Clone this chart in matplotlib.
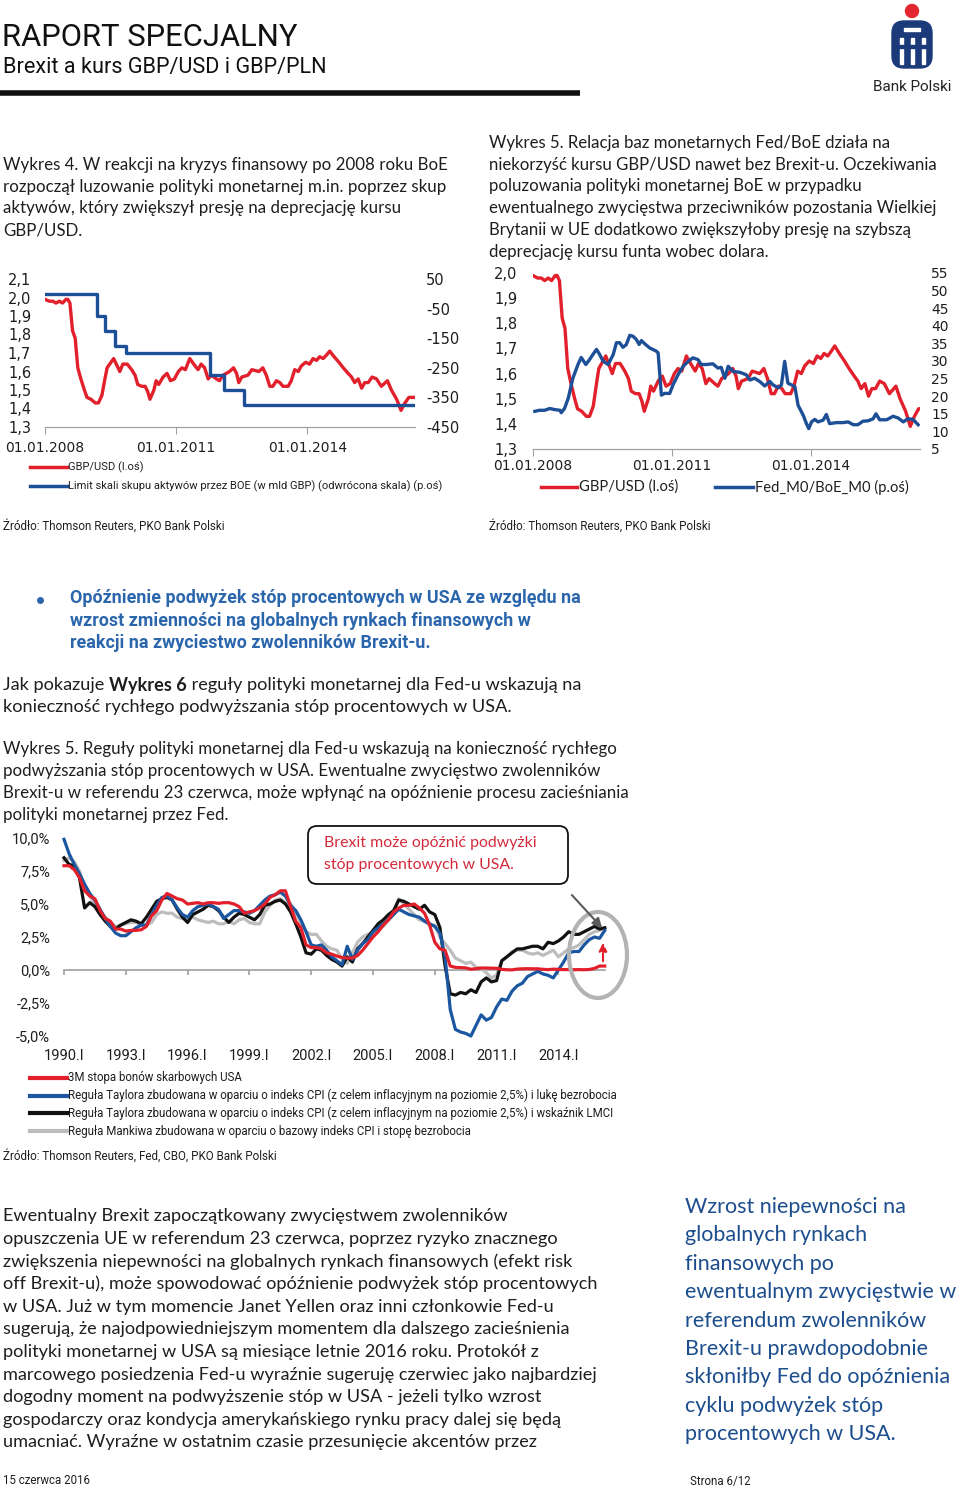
import matplotlib
matplotlib.use('Agg')
import matplotlib.pyplot as plt
import matplotlib.patches as patches
from matplotlib import font_manager
import numpy as np

W, H = 960, 1490

# ---------- dane ----------
# GBP/USD (wykres 4 i 5)
gbp_dates = [2008.00, 2008.10, 2008.18, 2008.25, 2008.33, 2008.40, 2008.48, 2008.52, 2008.57, 2008.63,
             2008.69, 2008.75, 2008.82, 2008.90, 2008.96, 2009.05, 2009.15, 2009.22, 2009.30, 2009.37,
             2009.42, 2009.51, 2009.57, 2009.65, 2009.71, 2009.78, 2009.88, 2009.98, 2010.06, 2010.12,
             2010.21, 2010.29, 2010.35, 2010.40, 2010.49, 2010.54, 2010.60, 2010.70, 2010.79, 2010.87,
             2010.96, 2011.05, 2011.13, 2011.21, 2011.31, 2011.40, 2011.50, 2011.57, 2011.65, 2011.73,
             2011.80, 2011.92, 2011.99, 2012.07, 2012.22, 2012.31, 2012.38, 2012.43, 2012.50, 2012.64,
             2012.73, 2012.89, 2012.98, 2013.06, 2013.14, 2013.21, 2013.29, 2013.37, 2013.44, 2013.56,
             2013.63, 2013.71, 2013.79, 2013.86, 2013.96, 2014.05, 2014.13, 2014.21, 2014.28, 2014.36,
             2014.44, 2014.51, 2014.61, 2014.72, 2014.82, 2014.93, 2015.01, 2015.08, 2015.16, 2015.24,
             2015.31, 2015.39, 2015.48, 2015.58, 2015.69, 2015.83, 2015.92, 2016.04, 2016.14, 2016.23,
             2016.32, 2016.46]
gbp_usd = [1.99, 1.98, 1.98, 1.97, 1.98, 1.97, 1.99, 1.99, 1.97, 1.82,
           1.78, 1.62, 1.56, 1.50, 1.46, 1.45, 1.43, 1.43, 1.47, 1.56,
           1.62, 1.65, 1.67, 1.63, 1.60, 1.64, 1.64, 1.61, 1.58, 1.53,
           1.52, 1.52, 1.49, 1.45, 1.50, 1.55, 1.53, 1.57, 1.59, 1.55,
           1.56, 1.60, 1.62, 1.61, 1.67, 1.64, 1.61, 1.64, 1.62, 1.56,
           1.58, 1.56, 1.55, 1.58, 1.60, 1.62, 1.59, 1.54, 1.57, 1.58,
           1.61, 1.60, 1.62, 1.58, 1.52, 1.52, 1.55, 1.54, 1.52, 1.52,
           1.55, 1.61, 1.60, 1.63, 1.65, 1.64, 1.67, 1.66, 1.68, 1.67,
           1.69, 1.71, 1.68, 1.65, 1.62, 1.59, 1.57, 1.54, 1.56, 1.51,
           1.54, 1.54, 1.57, 1.56, 1.52, 1.55, 1.50, 1.45, 1.39, 1.43,
           1.46, 1.46]

# limit skupu aktywow BoE (mld GBP), zmiany
boe_dates = [2008.00, 2009.20, 2009.37, 2009.60, 2009.85, 2011.77, 2012.10, 2012.55, 2016.46]
boe_limit = [0, 75, 125, 175, 200, 275, 325, 375, 375]

# Fed_M0 / BoE_M0
m0_dates = [2008.04, 2008.14, 2008.25, 2008.36, 2008.47, 2008.58, 2008.61, 2008.68, 2008.76, 2008.86,
            2008.97, 2009.04, 2009.14, 2009.22, 2009.29, 2009.37, 2009.44, 2009.51, 2009.62, 2009.73,
            2009.80, 2009.87, 2009.94, 2010.01, 2010.09, 2010.16, 2010.23, 2010.29, 2010.34, 2010.41,
            2010.52, 2010.66, 2010.70, 2010.77, 2010.84, 2010.95, 2011.02, 2011.13, 2011.24, 2011.35,
            2011.45, 2011.56, 2011.63, 2011.74, 2011.88, 2011.99, 2012.06, 2012.14, 2012.21, 2012.32,
            2012.46, 2012.60, 2012.68, 2012.78, 2012.89, 2013.00, 2013.11, 2013.18, 2013.29, 2013.36,
            2013.43, 2013.50, 2013.58, 2013.65, 2013.72, 2013.83, 2013.90, 2013.95, 2014.01, 2014.08,
            2014.15, 2014.26, 2014.33, 2014.40, 2014.55, 2014.69, 2014.80, 2014.91, 2015.01, 2015.12,
            2015.23, 2015.34, 2015.40, 2015.48, 2015.63, 2015.77, 2015.88, 2015.99, 2016.09, 2016.20,
            2016.31]
m0_ratio = [15.7, 16.0, 16.0, 16.5, 16.2, 16.0, 15.3, 16.5, 19.4, 25.1,
            29.0, 31.0, 29.0, 30.4, 31.8, 33.3, 31.8, 30.0, 29.0, 31.8,
            35.2, 35.2, 33.9, 34.6, 37.3, 37.0, 36.1, 34.7, 35.8, 34.9,
            33.7, 32.8, 32.3, 20.3, 20.8, 20.8, 23.2, 26.1, 28.5, 29.9,
            30.9, 30.4, 29.0, 29.0, 29.2, 28.0, 28.2, 25.1, 28.5, 27.0,
            26.8, 26.1, 24.6, 25.1, 24.2, 22.9, 24.2, 23.2, 22.4, 23.2,
            29.9, 23.7, 23.2, 22.7, 17.4, 14.6, 12.2, 10.8, 12.7, 13.4,
            12.7, 13.2, 14.8, 12.2, 12.5, 12.5, 12.7, 11.9, 11.9, 12.9,
            13.0, 13.6, 15.0, 13.3, 13.3, 14.3, 13.8, 12.7, 13.6, 13.4,
            11.9]

# wykres 6: dane kwartalne 1990.I - 2016.II
tbill_3m = [7.9, 7.9, 7.6, 7.0, 6.0, 5.6, 5.4, 4.5, 3.9, 3.7, 3.1, 3.1, 2.95, 3.0, 3.0, 3.05,
            3.3, 4.1, 4.5, 5.3, 5.8, 5.6, 5.4, 5.3, 5.0, 5.05, 5.1, 5.0, 5.1, 5.1, 5.05, 5.1,
            5.1, 5.0, 4.8, 4.3, 4.4, 4.5, 4.7, 5.0, 5.5, 5.7, 6.0, 6.0, 4.8, 3.7, 3.2, 1.9,
            1.7, 1.7, 1.6, 1.3, 1.2, 1.05, 0.95, 0.9, 0.9, 1.1, 1.5, 2.0, 2.5, 2.9, 3.4, 3.8,
            4.4, 4.7, 4.9, 4.9, 5.0, 4.7, 4.3, 3.4, 2.1, 1.6, 1.5, 0.3, 0.2, 0.18, 0.16, 0.06,
            0.1, 0.15, 0.15, 0.14, 0.13, 0.05, 0.02, 0.01, 0.07, 0.09, 0.1, 0.09, 0.09, 0.05, 0.03, 0.06,
            0.05, 0.03, 0.03, 0.02, 0.03, 0.02, 0.04, 0.12, 0.3, 0.3]
taylor_unemp = [9.9, 8.8, 8.0, 7.3, 6.5, 5.8, 5.3, 4.6, 3.9, 3.3, 2.8, 2.6, 2.6, 2.9, 3.2, 3.4,
                3.4, 4.2, 4.9, 5.5, 5.6, 5.3, 4.7, 4.2, 4.0, 4.5, 4.8, 4.9, 5.0, 4.8, 4.6, 3.9,
                4.2, 4.5, 4.5, 4.4, 4.3, 4.5, 4.9, 5.3, 5.6, 5.7, 5.9, 5.6, 4.9, 4.5, 3.8, 2.9,
                1.9, 1.8, 1.9, 1.5, 1.0, 0.7, 0.4, 1.8, 0.8, 1.5, 2.0, 2.3, 2.9, 3.2, 3.5, 3.8,
                4.2, 4.6, 4.4, 4.2, 4.1, 4.0, 3.7, 3.5, 3.3, 2.8, 1.0, -3.0, -4.5, -4.7, -4.8, -5.0,
                -4.2, -3.4, -3.8, -3.6, -2.8, -2.2, -2.3, -1.6, -1.2, -1.0, -0.5, -0.3, -0.1, -0.3, -0.4, -0.6,
                0.0, 0.6, 1.3, 1.4, 1.4, 1.9, 2.3, 2.5, 2.4, 3.0]
taylor_lmci = [8.5, 8.0, 7.9, 7.0, 4.7, 5.1, 4.8, 4.2, 3.7, 3.3, 3.1, 3.4, 3.6, 3.8, 3.7, 3.5,
               4.0, 4.6, 5.2, 5.4, 5.5, 5.3, 4.6, 4.0, 3.6, 4.2, 4.4, 4.6, 4.9, 4.8, 4.5, 4.0,
               3.6, 4.0, 4.3, 4.2, 4.0, 3.8, 4.2, 4.9, 5.0, 5.2, 5.3, 5.0, 4.4, 3.5, 2.5, 1.3,
               1.2, 1.6, 1.5, 1.1, 0.8, 0.6, 0.3, 1.0, 0.6, 1.6, 2.0, 2.5, 3.0, 3.5, 3.8, 4.2,
               4.5, 5.3, 5.2, 5.0, 4.8, 4.6, 4.9, 4.4, 4.2, 3.2, 0.3, -1.8, -1.9, -1.7, -1.8, -1.5,
               -1.7, -0.9, -0.6, -0.9, -0.8, 0.7, 1.0, 1.3, 1.6, 1.6, 1.7, 1.8, 1.8, 1.6, 2.1, 2.0,
               2.2, 2.5, 2.9, 2.7, 2.7, 2.9, 3.1, 3.3, 3.1, 3.2]
mankiw = [8.3, 8.5, 8.2, 7.5, 6.3, 5.6, 5.0, 4.5, 4.0, 3.6, 3.3, 3.4, 3.5, 3.6, 3.6, 3.4,
          3.4, 3.6, 4.2, 4.4, 4.3, 4.3, 4.0, 3.9, 3.9, 4.0, 3.8, 3.7, 3.6, 3.7, 3.5, 3.5,
          3.7, 3.5, 3.8, 3.9, 3.6, 3.5, 3.5, 4.4, 4.9, 5.3, 5.4, 5.1, 5.0, 4.3, 3.6, 2.9,
          2.7, 2.7, 2.2, 1.8, 1.6, 1.5, 0.8, 0.5, 1.3, 2.1, 2.5, 2.7, 2.8, 3.2, 3.3, 3.8,
          4.2, 5.4, 5.0, 4.6, 4.2, 3.8, 3.7, 3.4, 3.4, 2.5, 2.0, 1.5, 0.9, 0.7, 0.5, 0.6,
          0.2, 0.1, -0.2, -0.6, -0.4, 0.7, 1.0, 1.4, 1.5, 1.5, 1.3, 1.2, 1.3, 1.1, 1.3, 1.5,
          1.0, 1.3, 1.6, 1.7, 1.9, 2.3, 2.7, 2.9, 3.0, 3.2]

ticks_gbp4 = [1.3, 1.4, 1.5, 1.6, 1.7, 1.8, 1.9, 2.0, 2.1]
ticks_boe = [-450, -350, -250, -150, -50, 50]
ticks_gbp5 = [1.3, 1.4, 1.5, 1.6, 1.7, 1.8, 1.9, 2.0]
ticks_m0 = [5, 10, 15, 20, 25, 30, 35, 40, 45, 50, 55]
date_ticks = [2008, 2011, 2014]
date_labels = ['01.01.2008', '01.01.2011', '01.01.2014']
rate_ticks = [-5.0, -2.5, 0.0, 2.5, 5.0, 7.5, 10.0]
year_ticks = [1990, 1993, 1996, 1999, 2002, 2005, 2008, 2011, 2014]

# ---------- styl ----------
names = {f.name for f in font_manager.fontManager.ttflist}
NARROW = 'Liberation Sans Narrow' if 'Liberation Sans Narrow' in names else 'Roboto'
BODY = 'Lato' if 'Lato' in names else 'DejaVu Sans'
plt.rcParams['axes.unicode_minus'] = False

INK = '#1e1e1e'
RED = '#e2202c'
BLUE = '#1d4f97'
GREY = '#bdbdbd'
AXIS = '#a0a0a0'
TXT_BLUE = '#2b66ad'
NAVY_TXT = '#1c4d8c'


def comma(v, fmt):
    return (fmt % v).replace('.', ',')


fig = plt.figure(figsize=(W / 100, H / 100), dpi=100)
page = fig.add_axes([0, 0, 1, 1])
page.set_xlim(0, W)
page.set_ylim(H, 0)
page.axis('off')


def box(x0, y0, x1, y1):
    return [x0 / W, 1 - y1 / H, (x1 - x0) / W, (y1 - y0) / H]


def txt(x, y, s, size, color=INK, family=BODY, weight='normal', ha='left', ax=None):
    a = page if ax is None else ax
    return a.text(x, y, s, fontsize=size, color=color, family=family,
                  weight=weight, ha=ha, va='center')


def lines(x, y0, step, rows, size, **kw):
    for i, r in enumerate(rows):
        txt(x, y0 + i * step, r, size, **kw)


# ---------- naglowek ----------
txt(2, 37, 'RAPORT SPECJALNY', 22.3, family=NARROW, color='#111111')
txt(3, 68, 'Brexit a kurs GBP/USD i GBP/PLN', 15.6, family=NARROW, color='#111111')
page.plot([0, 580], [93, 93], color='#111111', lw=4, solid_capstyle='butt')

# logo
page.add_patch(patches.Circle((912, 11), 6.5, color='#e3262f'))
page.add_patch(patches.FancyBboxPatch((892, 21), 40, 47, boxstyle='round,pad=0,rounding_size=12',
                                      color='#1b3a7a'))
page.add_patch(patches.Rectangle((904, 28), 16, 3, color='white'))
for xx in (900, 911, 922):
    page.add_patch(patches.Rectangle((xx, 38), 3, 26, color='white'))
page.add_patch(patches.Rectangle((894, 45), 36, 2.5, color='#1b3a7a'))
txt(912, 87, 'Bank Polski', 11, family=NARROW, ha='center', color='#222222')

# ---------- teksty nad wykresami ----------
lines(3, 165, 21.7, ['Wykres 4. W reakcji na kryzys finansowy po 2008 roku BoE',
                     'rozpoczął luzowanie polityki monetarnej m.in. poprzez skup',
                     'aktywów, który zwiększył presję na deprecjację kursu',
                     'GBP/USD.'], 12.2)
lines(489, 143, 21.7, ['Wykres 5. Relacja baz monetarnych Fed/BoE działa na',
                       'niekorzyść kursu GBP/USD nawet bez Brexit-u. Oczekiwania',
                       'poluzowania polityki monetarnej BoE w przypadku',
                       'ewentualnego zwycięstwa przeciwników pozostania Wielkiej',
                       'Brytanii w UE dodatkowo zwiększyłoby presję na szybszą',
                       'deprecjację kursu funta wobec dolara.'], 12.1)


def date_axis(ax):
    for s in ('top', 'left', 'right'):
        ax.spines[s].set_visible(False)
    ax.spines['bottom'].set_color(AXIS)
    ax.set_xticks(date_ticks)
    ax.set_xticklabels(date_labels)
    ax.tick_params(axis='x', length=5, color=AXIS, pad=5, labelsize=10, labelcolor=INK)
    ax.tick_params(axis='y', length=0, labelsize=10.5, labelcolor=INK, pad=12)
    ax.patch.set_alpha(0)


# ---------- wykres 4 ----------
ax1 = fig.add_axes(box(45, 279, 415, 427))
ax1.plot(gbp_dates, gbp_usd, color=RED, lw=2.4)
ax1.set_xlim(2008, 2016.46)
ax1.set_ylim(1.3, 2.1)
ax1.set_yticks(ticks_gbp4)
ax1.set_yticklabels([comma(v, '%.1f') for v in ticks_gbp4])
date_axis(ax1)
ax1.tick_params(axis='y', pad=10)
ax1r = ax1.twinx()
ax1r.plot(boe_dates, [-v for v in boe_limit], drawstyle='steps-post', color=BLUE, lw=2.4)
ax1r.set_ylim(-450, 50)
ax1r.set_yticks(ticks_boe)
date_axis(ax1r)
ax1r.tick_params(axis='y', pad=8)

page.plot([30, 67], [467, 467], color=RED, lw=2.5)
page.plot([30, 67], [486, 486], color=BLUE, lw=2.5)
txt(68, 467, 'GBP/USD (l.oś)', 8.0, family=NARROW)
txt(68, 486, 'Limit skali skupu aktywów przez BOE (w mld GBP) (odwrócona skala) (p.oś)', 8.0,
    family=NARROW)

# ---------- wykres 5 ----------
ax2 = fig.add_axes(box(533, 273, 920, 449))
ax2.plot(gbp_dates, gbp_usd, color=RED, lw=2.4)
ax2.set_xlim(2008, 2016.35)
ax2.set_ylim(1.3, 2.0)
ax2.set_yticks(ticks_gbp5)
ax2.set_yticklabels([comma(v, '%.1f') for v in ticks_gbp5])
date_axis(ax2)
ax2r = ax2.twinx()
ax2r.plot(m0_dates, m0_ratio, color=BLUE, lw=2.4)
ax2r.set_ylim(5, 55)
ax2r.set_yticks(ticks_m0)
date_axis(ax2r)
ax2r.tick_params(axis='y', pad=8, labelsize=10)
ax2.tick_params(axis='y', pad=11)
ax2.tick_params(axis='x', pad=2)
ax2r.tick_params(axis='x', pad=2)

page.plot([541, 577], [487, 487], color=RED, lw=2.5)
txt(579, 487, 'GBP/USD (l.oś)', 10.6)
page.plot([715, 753], [487, 487], color=BLUE, lw=2.5)
txt(755, 487, 'Fed_M0/BoE_M0 (p.oś)', 10.6)

txt(3, 526, 'Źródło: Thomson Reuters, PKO Bank Polski', 8.4, family=NARROW)
txt(489, 526, 'Źródło: Thomson Reuters, PKO Bank Polski', 8.4, family=NARROW)

# ---------- wypunktowanie ----------
page.plot([40], [600], 'o', color=TXT_BLUE, ms=4)
lines(70, 598, 22.5, ['Opóźnienie podwyżek stóp procentowych w USA ze względu na',
                      'wzrost zmienności na globalnych rynkach finansowych w',
                      'reakcji na zwyciestwo zwolenników Brexit-u.'], 12.9, family=NARROW,
      color=TXT_BLUE, weight='bold')

# akapit z pogrubieniem
rend = fig.canvas.get_renderer()
xx = 3
for part, wgt in (('Jak pokazuje ', 'normal'), ('Wykres 6', 'bold'),
                  (' reguły polityki monetarnej dla Fed-u wskazują na', 'normal')):
    t = txt(xx, 685, part, 13.1, weight=wgt)
    xx += t.get_window_extent(rend).width
txt(3, 707, 'konieczność rychłego podwyższania stóp procentowych w USA.', 13.1)

lines(3, 749, 22, ['Wykres 5. Reguły polityki monetarnej dla Fed-u wskazują na konieczność rychłego',
                   'podwyższania stóp procentowych w USA. Ewentualne zwycięstwo zwolenników',
                   'Brexit-u w referendu 23 czerwca, może wpłynąć na opóźnienie procesu zacieśniania',
                   'polityki monetarnej przez Fed.'], 12.2)

# ---------- wykres 6 ----------
PX_PER_PCT = 13.2
Y0 = 970
X1990 = 64
PX_PER_YR = 20.6
ylo, yhi = -5.6, 10.4
xlo, xhi = 1989.6, 2016.8
ax3 = fig.add_axes(box(X1990 + (xlo - 1990) * PX_PER_YR, Y0 - yhi * PX_PER_PCT,
                       X1990 + (xhi - 1990) * PX_PER_YR, Y0 - ylo * PX_PER_PCT))
quarters = 1990 + 0.25 * np.arange(len(tbill_3m))
ax3.plot(quarters, mankiw, color=GREY, lw=2.3)
ax3.plot(quarters, taylor_lmci, color='#111111', lw=2.3)
ax3.plot(quarters, taylor_unemp, color='#1b56a0', lw=2.3)
ax3.plot(quarters, tbill_3m, color=RED, lw=2.3)
ax3.set_xlim(xlo, xhi)
ax3.set_ylim(ylo, yhi)
ax3.plot([1990, quarters[-1]], [0, 0], color=AXIS, lw=1.2, zorder=0)
ax3.vlines(year_ticks, -0.35, 0, color=AXIS, lw=1.2, zorder=0)
for s in ax3.spines.values():
    s.set_visible(False)
ax3.set_yticks(rate_ticks)
ax3.set_yticklabels([comma(v, '%.1f') + '%' for v in rate_ticks])
ax3.set_xticks(year_ticks)
ax3.set_xticklabels(['%d.I' % y for y in year_ticks])
ax3.tick_params(length=0, labelsize=10.5, labelcolor=INK)
ax3.tick_params(axis='y', pad=4)
ax3.tick_params(axis='x', pad=4)
for lab in ax3.get_xticklabels() + ax3.get_yticklabels():
    lab.set_family(NARROW)
ax3.patch.set_alpha(0)

leg = [(RED, '3M stopa bonów skarbowych USA'),
       ('#1b56a0', 'Reguła Taylora zbudowana w oparciu o indeks CPI (z celem inflacyjnym na poziomie 2,5%) i lukę bezrobocia'),
       ('#111111', 'Reguła Taylora zbudowana w oparciu o indeks CPI (z celem inflacyjnym na poziomie 2,5%) i wskaźnik LMCI'),
       (GREY, 'Reguła Mankiwa zbudowana w oparciu o bazowy indeks CPI i stopę bezrobocia')]
for i, (c, lab) in enumerate(leg):
    yy = 1078 + i * 17.7
    page.plot([30, 67], [yy, yy], color=c, lw=3)
    txt(68, yy, lab, 8.3, family=NARROW)

txt(3, 1156, 'Źródło: Thomson Reuters, Fed, CBO, PKO Bank Polski', 8.4, family=NARROW)

# warstwa wierzchnia: dymek, strzalka, elipsa
top = fig.add_axes([0, 0, 1, 1])
top.set_xlim(0, W)
top.set_ylim(H, 0)
top.axis('off')
top.patch.set_alpha(0)
top.add_patch(patches.FancyBboxPatch((308, 826), 260, 58, boxstyle='round,pad=0,rounding_size=9',
                                     fc='white', ec='#111111', lw=1.3))
txt(324, 843, 'Brexit może opóźnić podwyżki', 11.4, color='#d42a3c', ax=top)
txt(324, 865, 'stóp procentowych w USA.', 11.4, color='#d42a3c', ax=top)
top.annotate('', xy=(604, 930), xytext=(570, 893),
             arrowprops=dict(arrowstyle='-|>', color='#5a5a5a', lw=1.5, mutation_scale=14))
top.add_patch(patches.Ellipse((598, 955), 58, 86, fill=False, ec='#b3b3b3', lw=3))
top.annotate('', xy=(603, 940), xytext=(603, 964),
             arrowprops=dict(arrowstyle='-|>', color=RED, lw=1.5, ls='--', mutation_scale=12))

# ---------- tekst dolny ----------
lines(3, 1216, 22.65, ['Ewentualny Brexit zapoczątkowany zwycięstwem zwolenników',
                       'opuszczenia UE w referendum 23 czerwca, poprzez ryzyko znacznego',
                       'zwiększenia niepewności na globalnych rynkach finansowych (efekt risk',
                       'off Brexit-u), może spowodować opóźnienie podwyżek stóp procentowych',
                       'w USA. Już w tym momencie Janet Yellen oraz inni członkowie Fed-u',
                       'sugerują, że najodpowiedniejszym momentem dla dalszego zacieśnienia',
                       'polityki monetarnej w USA są miesiące letnie 2016 roku. Protokół z',
                       'marcowego posiedzenia Fed-u wyraźnie sugeruję czerwiec jako najbardziej',
                       'dogodny moment na podwyższenie stóp w USA - jeżeli tylko wzrost',
                       'gospodarczy oraz kondycja amerykańskiego rynku pracy dalej się będą',
                       'umacniać. Wyraźne w ostatnim czasie przesunięcie akcentów przez'], 13.1)

lines(685, 1207, 28.4, ['Wzrost niepewności na', 'globalnych rynkach', 'finansowych po',
                        'ewentualnym zwycięstwie w', 'referendum zwolenników',
                        'Brexit-u prawdopodobnie', 'skłoniłby Fed do opóźnienia',
                        'cyklu podwyżek stóp', 'procentowych w USA.'], 15.5, color=NAVY_TXT)

txt(3, 1481, '15 czerwca 2016', 8.3, family=NARROW)
txt(690, 1481, 'Strona 6/12', 8.3, family=NARROW)

fig.savefig('out.png', dpi=100)
